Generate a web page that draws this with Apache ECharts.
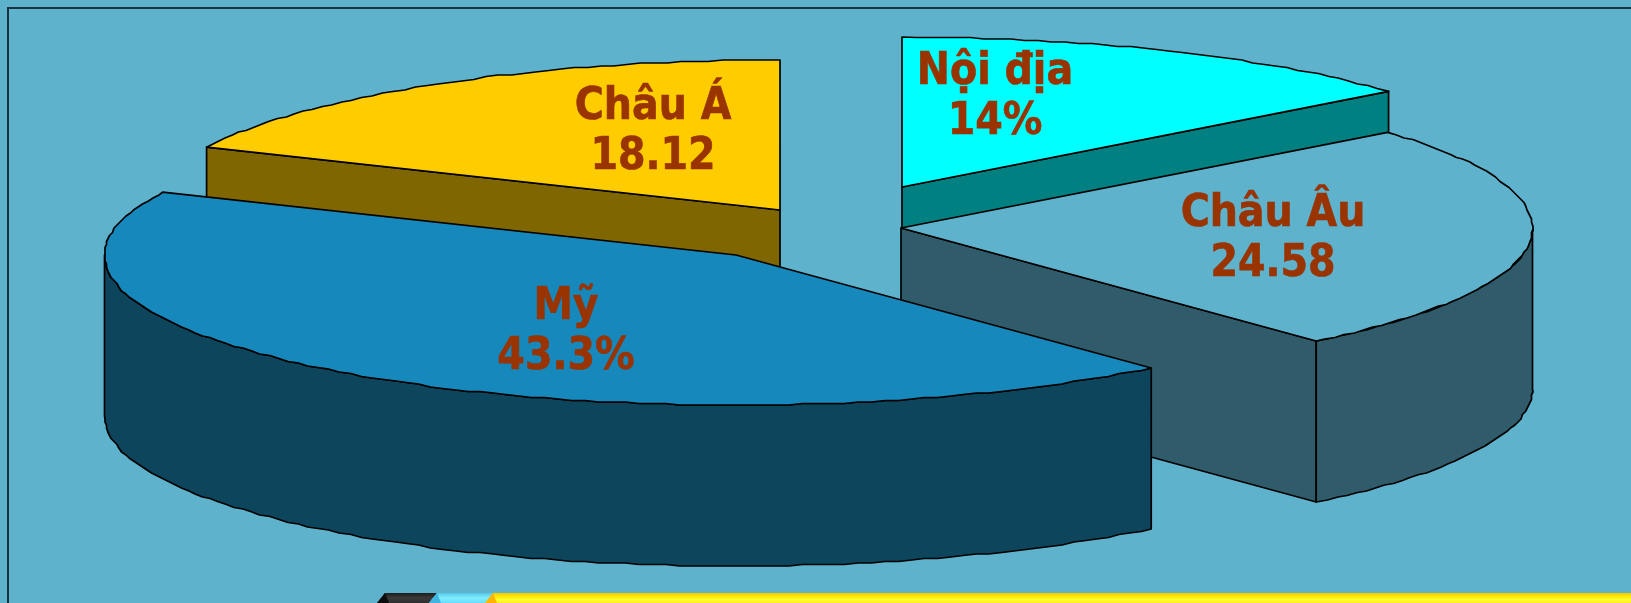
<!DOCTYPE html>
<html>
<head>
<meta charset="utf-8">
<title>Pie</title>
<script src="https://cdn.jsdelivr.net/npm/echarts@6/dist/echarts.min.js"></script>
<style>
	html, body { margin: 0; padding: 0; background: #5fb2cc; }
	#box { width: 1631px; height: 603px; }
</style>
</head>
<body>
<div id="box"></div>
<script>
	// clockwise from 12 o'clock
	var categories = ['Nội địa', 'Châu Âu', 'Mỹ', 'Châu Á'];
	var values = [14, 24.58, 43.3, 18.12];
	var valueLabels = ['14%', '24.58', '43.3%', '18.12'];

	// colours of each slice, top face then side face
	var topColors = ['#00ffff', '#5fb2cc', '#1688bb', '#ffcc00'];
	var sideColors = ['#008080', '#305b6a', '#0d455c', '#806600'];
	// painter order, back slices first
	var drawOrder = [0, 2, 3, 1];

	// pie layout in px
	var center = [830, 220];
	var rx = 631.5, ry = 150, depth = 161;
	var explode = [[72, -33], [71, 8], [-94, 35], [-50, -10]];
	var labelOffset = [[93, -89], [372, 12], [-170, 78], [-127, -77]];

	var total = values.reduce(function (a, b) { return a + b; }, 0);

	function arcPoint(cx, cy, deg) {
		var a = deg * Math.PI / 180;
		return [cx + rx * Math.sin(a), cy - ry * Math.cos(a)];
	}

	// the rim is a slightly rough polyline, snapped to a small grid between the ends
	function arcPoints(cx, cy, from, to) {
		var pts = [arcPoint(cx, cy, from)];
		for (var d = from + 1.25; d < to - 0.5; d += 1.25) {
			var p = arcPoint(cx, cy, d);
			pts.push([Math.round(p[0] / 1.5) * 1.5, Math.round(p[1] / 1.5) * 1.5]);
		}
		pts.push(arcPoint(cx, cy, to));
		return pts;
	}

	function face(points, color, z) {
		return {
			type: 'polygon',
			z2: z,
			shape: { points: points },
			style: { fill: color, stroke: '#000', lineWidth: 1.7, lineJoin: 'round' }
		};
	}

	function radialFace(cx, cy, deg, color, z) {
		var p = arcPoint(cx, cy, deg);
		return face([[cx, cy], p, [p[0], p[1] + depth], [cx, cy + depth]], color, z);
	}

	function renderSlice(params, api) {
		var i = params.dataIndex;
		var before = 0;
		for (var k = 0; k < i; k++) before += values[k];
		var a0 = before / total * 360;
		var a1 = (before + api.value(1)) / total * 360;
		var cx = center[0] + explode[i][0];
		var cy = center[1] + explode[i][1];
		var z = drawOrder[i] * 10;
		var children = [];

		// radial walls that face the viewer
		if (Math.sin(a0 * Math.PI / 180) < -0.001) children.push(radialFace(cx, cy, a0, sideColors[i], z));
		if (Math.sin(a1 * Math.PI / 180) > 0.001) children.push(radialFace(cx, cy, a1, sideColors[i], z));

		// front part of the rim
		var f0 = Math.max(a0, 90), f1 = Math.min(a1, 270);
		if (f1 > f0) {
			var rim = arcPoints(cx, cy, f0, f1);
			var low = rim.map(function (p) { return [p[0], p[1] + depth]; }).reverse();
			children.push(face(rim.concat(low), sideColors[i], z + 1));
		}

		// top
		children.push(face([[cx, cy]].concat(arcPoints(cx, cy, a0, a1)), topColors[i], z + 2));

		children.push({
			type: 'text',
			z2: 100,
			style: {
				x: cx + labelOffset[i][0],
				y: cy + labelOffset[i][1],
				text: categories[i] + '\n' + valueLabels[i],
				fill: '#993300',
				stroke: '#993300',
				lineWidth: 0.6,
				font: 'bold 44px "DejaVu Sans Condensed", "DejaVu Sans"',
				lineHeight: 50,
				align: 'center',
				verticalAlign: 'middle'
			}
		});
		return { type: 'group', children: children };
	}

	var myChart = echarts.init(document.getElementById('box'), null, { renderer: 'canvas' });

	function strip(stops) {
		return {
			type: 'linear', x: 0, y: 0, x2: 0, y2: 1,
			colorStops: stops.map(function (c, n) { return { offset: n / (stops.length - 1), color: c }; })
		};
	}

	myChart.setOption({
		animation: false,
		backgroundColor: '#5fb2cc',
		xAxis: { show: false },
		yAxis: { show: false },
		graphic: [
			// frame
			{ type: 'rect', shape: { x: 7, y: 7, width: 1624, height: 2 }, style: { fill: '#16333f' } },
			{ type: 'rect', shape: { x: 7, y: 7, width: 2, height: 596 }, style: { fill: '#16333f' } },
			// strip at the bottom
			{ type: 'polygon', shape: { points: [[377, 603], [385, 593], [437, 593], [429, 603]] }, style: { fill: strip(['#1c1c1c', '#3a3a3a', '#2e2e2e']) } },
			{ type: 'polygon', shape: { points: [[377, 603], [385, 593], [389, 603]] }, style: { fill: '#0c0c0c' } },
			{ type: 'polygon', shape: { points: [[429, 603], [437, 593], [493, 593], [485, 603]] }, style: { fill: strip(['#55c8e8', '#80eeff', '#66ddff']) } },
			{ type: 'polygon', shape: { points: [[429, 603], [437, 593], [441, 603]] }, style: { fill: '#3fb4e0' } },
			{ type: 'polygon', shape: { points: [[485, 603], [493, 593], [1631, 593], [1631, 603]] }, style: { fill: strip(['#f8c800', '#ffe600', '#ffff33', '#ffee22']) } },
			{ type: 'polygon', shape: { points: [[485, 603], [493, 593], [497, 603]] }, style: { fill: '#ffb400' } }
		],
		series: [{
			type: 'custom',
			coordinateSystem: 'none',
			renderItem: renderSlice,
			data: categories.map(function (name, i) { return { name: name, value: [i, values[i]] }; })
		}]
	});
</script>
</body>
</html>
